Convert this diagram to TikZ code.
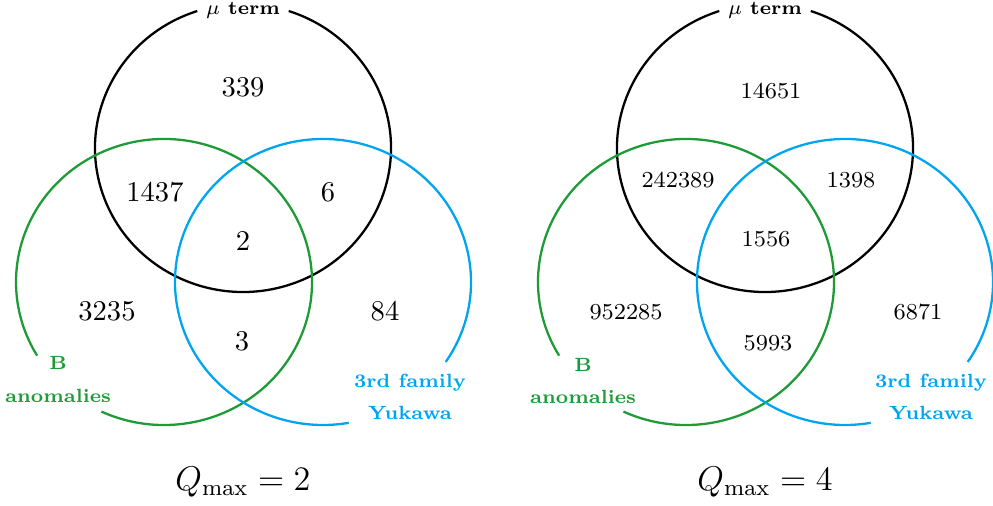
\documentclass[tikz,border=0pt]{standalone}
\definecolor{vgreen}{RGB}{30,155,55}
\definecolor{vblue}{RGB}{0,165,240}
\begin{document}
\begin{tikzpicture}[x=0.35pt,y=0.35pt,
  ring/.style={line width=0.8pt},
  numL/.style={font=\normalsize},
  numR/.style={font=\footnotesize},
  lab/.style={font=\fontsize{6.7}{8}\selectfont\bfseries},
  qlab/.style={font=\large}]
\useasboundingbox (0,0) rectangle (993,506);
% ---------- left diagram ----------
\coordinate (kL) at (243,358);
\coordinate (gL) at (164,224);
\coordinate (bL) at (323,224);
\draw[ring,black] ([shift={(108:148 and 144)}]kL) arc[start angle=108,end angle=432,x radius=148,y radius=144];
\draw[ring,vgreen] ([shift={(245:148 and 143)}]gL) arc[start angle=245,end angle=571,x radius=148,y radius=143];
\draw[ring,vblue] ([shift={(-34:148 and 143)}]bL) arc[start angle=-34,end angle=280,x radius=148,y radius=143];
\node[numL] (l1) at (243,419) {339};
\node[numL] (l2) at (155,314) {1437};
\node[numL] (l3) at (328,314) {6};
\node[numL] (l4) at (243,265) {2};
\node[numL] (l5) at (107,195) {3235};
\node[numL] (l6) at (385,195) {84};
\node[numL] (l7) at (242,165) {3};
\node[lab] (lmu) at (243,496) {$\mu$ term};
\node[lab,text=vgreen] (lB) at (58,143) {B};
\node[lab,text=vgreen] (lanom) at (58,110) {anomalies};
\node[lab,text=vblue] (l3rd) at (410,123) {3rd family};
\node[lab,text=vblue] (lyuk) at (410,93) {Yukawa};
\node[qlab] (lq) at (243,24) {$Q_{\max}=2$};
% ---------- right diagram ----------
\coordinate (kR) at (765,358);
\coordinate (gR) at (686,224);
\coordinate (bR) at (845,224);
\draw[ring,black] ([shift={(108:148 and 144)}]kR) arc[start angle=108,end angle=432,x radius=148,y radius=144];
\draw[ring,vgreen] ([shift={(245:148 and 143)}]gR) arc[start angle=245,end angle=571,x radius=148,y radius=143];
\draw[ring,vblue] ([shift={(-34:148 and 143)}]bR) arc[start angle=-34,end angle=280,x radius=148,y radius=143];
\node[numR] (r1) at (771,415) {14651};
\node[numR] (r2) at (678,326) {242389};
\node[numR] (r3) at (851,326) {1398};
\node[numR] (r4) at (766,267) {1556};
\node[numR] (r5) at (626,194) {952285};
\node[numR] (r6) at (918,194) {6871};
\node[numR] (r7) at (768,163) {5993};
\node[lab] (rmu) at (765,496) {$\mu$ term};
\node[lab,text=vgreen] (rB) at (583,141) {B};
\node[lab,text=vgreen] (ranom) at (583,109) {anomalies};
\node[lab,text=vblue] (r3rd) at (931,123) {3rd family};
\node[lab,text=vblue] (ryuk) at (931,93) {Yukawa};
\node[qlab] (rq) at (765,24) {$Q_{\max}=4$};
\end{tikzpicture}
\end{document}
